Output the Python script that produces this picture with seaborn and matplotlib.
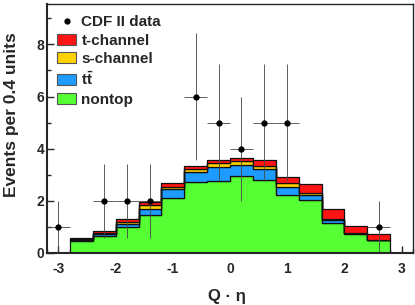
import numpy as np
import pandas as pd
import matplotlib
matplotlib.use("Agg")
import matplotlib.pyplot as plt
from matplotlib.patches import Patch
from matplotlib.lines import Line2D
from matplotlib.ticker import MultipleLocator
import seaborn as sns

# ---- data ----
bin_edges = [-2.8, -2.4, -2.0, -1.6, -1.2, -0.8, -0.4, 0.0, 0.4, 0.8, 1.2, 1.6, 2.0, 2.4, 2.8]
bin_centers = [-2.6, -2.2, -1.8, -1.4, -1.0, -0.6, -0.2, 0.2, 0.6, 1.0, 1.4, 1.8, 2.2, 2.6]
nontop = [0.47, 0.65, 0.99, 1.45, 2.11, 2.72, 2.78, 2.94, 2.81, 2.23, 2.04, 1.14, 0.72, 0.49]
ttbar = [0.02, 0.07, 0.13, 0.25, 0.34, 0.38, 0.52, 0.43, 0.41, 0.32, 0.18, 0.12, 0.03, 0.01]
schan = [0.03, 0.04, 0.08, 0.13, 0.10, 0.12, 0.15, 0.14, 0.10, 0.12, 0.10, 0.06, 0.03, 0.01]
tchan = [0.07, 0.10, 0.11, 0.14, 0.15, 0.13, 0.10, 0.14, 0.23, 0.24, 0.33, 0.36, 0.27, 0.22]

data_x = [-3.0, -2.2, -1.8, -1.4, -0.6, -0.2, 0.2, 0.6, 1.0, 2.6]
data_y = [1, 2, 2, 2, 6, 5, 4, 5, 5, 1]
data_err = [1.0, 1.41, 1.41, 1.41, 2.45, 2.24, 2.0, 2.24, 2.24, 1.0]
data_xerr = 0.2

labels = ["t-channel", "s-channel", r"$\mathbf{t\bar{t}}$", "nontop"]
colors = ["#ff1414", "#ffd200", "#1e9bff", "#55ff33"]

# ---- style ----
sns.set_theme(style="ticks")
plt.rcParams["font.family"] = ["Liberation Sans", "DejaVu Sans"]
plt.rcParams["font.weight"] = "bold"
plt.rcParams["axes.unicode_minus"] = False
plt.rcParams["mathtext.fontset"] = "custom"
plt.rcParams["mathtext.rm"] = "Liberation Sans"
plt.rcParams["mathtext.bf"] = "Liberation Sans:bold"
plt.rcParams["mathtext.it"] = "Liberation Sans:italic"

fig = plt.figure(figsize=(4.15, 3.05), dpi=100)
ax = fig.add_axes([47 / 415, 1 - 253 / 305, 366 / 415, 249 / 305])

comp_names = ["nontop", "ttbar", "schan", "tchan"]
comp_vals = [nontop, ttbar, schan, tchan]
rows = []
for name, vals in zip(comp_names, comp_vals):
    for c, v in zip(bin_centers, vals):
        rows.append({"x": c, "w": v, "comp": name})
df = pd.DataFrame(rows)

pal = {"nontop": colors[3], "ttbar": colors[2], "schan": colors[1], "tchan": colors[0]}
sns.histplot(data=df, x="x", weights="w", hue="comp",
             hue_order=["tchan", "schan", "ttbar", "nontop"],
             bins=bin_edges, multiple="stack", element="step",
             palette=pal, alpha=1, linewidth=0.9, edgecolor="#111111",
             legend=False, ax=ax)

ax.errorbar(data_x, data_y, xerr=data_xerr, yerr=data_err, fmt="o", color="black",
            ms=3.5, ecolor="#444444", elinewidth=0.6, capsize=0, zorder=10)

ax.set_xlim(-3.2, 3.2)
ax.set_ylim(0, 9.55)
ax.set_xlabel("")
ax.set_ylabel("")
ax.xaxis.set_major_locator(MultipleLocator(1))
ax.xaxis.set_minor_locator(MultipleLocator(0.2))
ax.yaxis.set_major_locator(MultipleLocator(2))
ax.yaxis.set_minor_locator(MultipleLocator(1))
ax.tick_params(which="both", direction="in", width=1.0, labelsize=10)
ax.tick_params(which="major", length=5)
ax.tick_params(which="minor", length=3)
ax.tick_params(axis="x", which="major", pad=6.5)
ax.tick_params(axis="y", which="major", pad=2)
for lab in ax.get_xticklabels() + ax.get_yticklabels():
    lab.set_fontweight("bold")
for s in ["left", "bottom"]:
    ax.spines[s].set_linewidth(1.5)
for s in ["top", "right"]:
    ax.spines[s].set_linewidth(1.0)
ax.spines["top"].set_visible(True)
ax.spines["right"].set_visible(True)

fig.text(12 / 415, 1 - 115 / 305, "Events per 0.4 units", rotation=90,
         ha="center", va="center", fontsize=12.5, fontweight="bold")
fig.text(227 / 415, 1 - 297 / 305, "Q · η", ha="center", va="center",
         fontsize=12, fontweight="bold")

handles = [Line2D([], [], marker="o", color="black", ls="none", ms=3.5)]
for c in colors:
    handles.append(Patch(facecolor=c, edgecolor="#555555", linewidth=0.8))
leg = ax.legend(handles, ["CDF II data"] + labels, loc="upper left",
                bbox_to_anchor=(10 / 366, 1 - 11 / 249), frameon=False,
                prop={"weight": "bold", "size": 11}, handlelength=1.25,
                handleheight=0.7, handletextpad=0.35, labelspacing=0.3,
                borderaxespad=0, borderpad=0)

fig.savefig("out.png", dpi=100)
